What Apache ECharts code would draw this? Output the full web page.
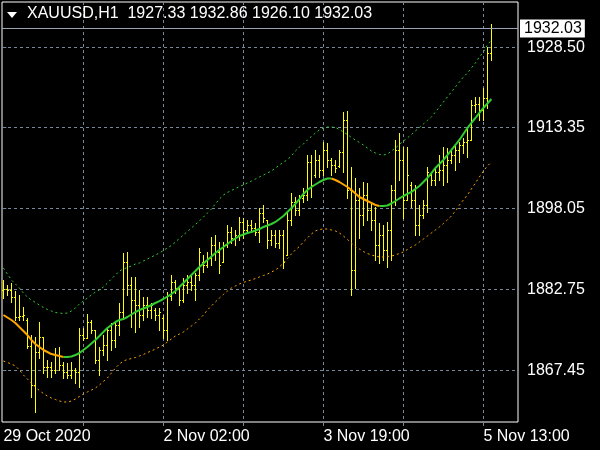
<!DOCTYPE html>
<html><head><meta charset="utf-8">
<script src="https://cdn.jsdelivr.net/npm/echarts@6/dist/echarts.min.js"></script>
<style>html,body{margin:0;padding:0;background:#000}#c{width:600px;height:450px}</style>
</head><body><div id="c"></div>
<script>
const symbolName = 'XAUUSD,H1';
const barOpen = [1882.62,1882.81,1882.62,1881.30,1877.52,1877.71,1876.96,1872.04,1864.68,1870.91,
1873.74,1868.08,1868.08,1867.51,1870.34,1868.46,1867.13,1866.57,1867.51,1867.13,
1874.12,1873.56,1876.58,1875.07,1869.40,1871.29,1872.23,1875.07,1873.18,1876.01,
1878.47,1887.91,1883.57,1880.73,1879.79,1877.90,1879.79,1878.84,1878.84,1877.90,
1877.33,1875.07,1881.49,1884.13,1883.00,1880.73,1883.57,1884.13,1883.57,1885.46,
1887.91,1887.34,1888.67,1891.12,1889.80,1887.91,1891.12,1893.58,1892.44,1893.01,
1895.47,1893.96,1894.90,1894.33,1893.58,1897.17,1895.84,1892.07,1893.01,1891.50,
1893.01,1889.23,1895.84,1899.24,1897.73,1900.00,1900.57,1906.80,1904.34,1907.18,
1905.29,1909.07,1907.18,1906.23,1906.04,1908.69,1914.73,1901.51,1886.40,1899.62,
1896.79,1900.57,1897.73,1895.84,1891.12,1893.01,1890.18,1893.96,1901.51,1909.07,
1907.18,1899.62,1902.46,1899.62,1894.90,1896.79,1898.68,1904.34,1903.40,1904.91,
1905.29,1906.23,1907.18,1908.12,1909.07,1910.01,1910.58,1910.96,1917.57,1917.76,
1916.62,1918.89,1927.33];
const barHigh = [1884.51,1883.57,1883.94,1882.43,1881.68,1879.41,1877.33,1874.12,1873.74,1876.58,
1873.74,1869.40,1869.02,1871.67,1871.86,1869.02,1868.83,1869.02,1867.89,1875.44,
1875.44,1878.09,1876.96,1875.07,1871.86,1874.12,1875.44,1876.39,1876.39,1880.17,
1889.61,1889.80,1885.08,1885.08,1882.62,1881.30,1881.30,1880.17,1879.22,1879.22,
1877.90,1882.24,1885.46,1884.51,1883.19,1884.89,1885.46,1885.46,1885.83,1890.56,
1889.23,1889.80,1892.63,1893.01,1891.69,1891.69,1894.90,1894.52,1893.96,1896.41,
1896.22,1895.84,1895.84,1895.28,1898.11,1898.68,1895.84,1893.96,1893.96,1893.96,
1893.96,1897.17,1900.94,1900.19,1900.57,1901.89,1908.12,1908.12,1909.07,1908.12,
1910.58,1910.39,1907.56,1907.18,1909.07,1916.24,1916.43,1905.86,1903.78,1901.89,
1903.02,1902.83,1899.24,1898.30,1895.28,1894.90,1895.47,1902.46,1910.96,1912.28,
1909.63,1909.63,1903.02,1902.46,1898.68,1899.62,1905.86,1904.91,1905.67,1908.12,
1909.63,1909.44,1909.07,1910.01,1910.58,1911.33,1913.41,1918.51,1919.08,1919.08,
1920.78,1928.52,1932.86];
const barLow = [1881.11,1881.68,1880.36,1876.96,1876.96,1876.96,1871.67,1862.41,1859.58,1869.78,
1866.94,1866.19,1866.19,1866.94,1867.51,1866.00,1866.00,1866.00,1865.06,1864.30,
1873.18,1873.56,1874.50,1868.83,1866.57,1870.34,1869.40,1871.29,1871.86,1874.12,
1877.52,1881.68,1875.63,1874.69,1875.63,1876.96,1877.52,1877.33,1876.96,1875.07,
1873.56,1873.18,1880.73,1882.05,1879.79,1880.36,1882.05,1882.62,1880.73,1884.51,
1886.02,1886.97,1887.34,1888.29,1885.83,1887.91,1890.74,1891.50,1891.12,1892.07,
1892.44,1893.39,1893.96,1893.01,1891.69,1895.47,1890.56,1891.12,1890.74,1890.56,
1886.78,1889.23,1894.90,1896.79,1896.79,1899.24,1899.62,1900.19,1903.97,1903.97,
1904.34,1905.86,1904.34,1904.91,1905.86,1904.91,1900.00,1881.68,1883.00,1892.44,
1894.90,1895.84,1893.96,1888.29,1887.72,1888.29,1886.97,1888.29,1898.68,1903.40,
1896.22,1899.62,1898.30,1893.01,1893.01,1896.22,1897.36,1902.46,1902.46,1903.40,
1902.46,1903.02,1906.61,1905.29,1906.80,1908.50,1907.74,1910.96,1916.24,1914.73,
1914.73,1917.00,1926.10];
const barClose = [1882.81,1882.62,1881.30,1877.52,1877.71,1877.90,1872.04,1864.68,1870.91,1873.74,
1868.08,1868.08,1867.51,1870.34,1868.46,1867.13,1866.57,1867.51,1867.13,1874.12,
1873.56,1876.58,1875.07,1869.40,1871.29,1872.23,1875.07,1873.18,1876.01,1878.47,
1887.91,1883.57,1880.73,1879.79,1877.90,1879.79,1878.84,1879.79,1877.90,1878.47,
1875.07,1881.49,1884.13,1883.00,1880.73,1883.57,1884.13,1883.57,1885.46,1889.80,
1887.34,1888.67,1891.12,1889.80,1887.34,1891.12,1893.58,1892.44,1893.01,1895.47,
1893.96,1894.90,1894.33,1893.58,1897.17,1896.22,1892.07,1893.01,1891.50,1893.01,
1887.91,1895.84,1899.24,1897.73,1900.00,1900.57,1906.80,1902.46,1907.18,1905.29,
1909.07,1907.18,1906.23,1905.67,1908.69,1914.73,1901.51,1886.40,1899.62,1896.79,
1900.57,1897.73,1895.84,1891.12,1893.01,1890.18,1893.96,1901.51,1909.07,1907.18,
1899.62,1904.34,1899.62,1894.90,1896.79,1898.68,1904.91,1903.40,1904.91,1905.29,
1906.23,1907.18,1908.12,1909.07,1910.01,1910.58,1910.96,1917.57,1917.76,1916.62,
1918.89,1927.33,1932.03];
const maLine = [1877.90,1877.43,1876.96,1876.39,1875.63,1874.88,1874.12,1873.18,1872.42,1871.86,
1871.29,1870.91,1870.53,1870.34,1870.16,1869.97,1869.97,1870.06,1870.34,1870.72,
1871.29,1871.86,1872.52,1873.18,1873.93,1874.69,1875.44,1876.01,1876.58,1876.96,
1877.14,1877.52,1877.99,1878.47,1878.84,1879.13,1879.41,1879.79,1880.17,1880.54,
1880.92,1881.39,1881.87,1882.43,1883.19,1883.94,1884.70,1885.46,1886.21,1886.97,
1887.63,1888.29,1888.95,1889.61,1890.18,1890.74,1891.31,1891.88,1892.35,1892.82,
1893.11,1893.39,1893.58,1893.86,1894.14,1894.52,1894.80,1895.09,1895.47,1896.03,
1896.60,1897.36,1898.11,1898.87,1899.81,1900.76,1901.51,1902.08,1902.55,1903.02,
1903.40,1903.68,1903.68,1903.40,1903.02,1902.55,1902.08,1901.51,1900.85,1900.19,
1899.81,1899.43,1899.06,1898.68,1898.49,1898.49,1898.58,1898.96,1899.43,1899.91,
1900.38,1900.76,1901.13,1901.70,1902.27,1903.02,1903.78,1904.72,1905.67,1906.42,
1907.18,1908.12,1909.07,1910.01,1910.96,1912.09,1913.22,1914.17,1915.11,1916.06,
1917.00,1917.85,1918.70];
const upperBand = [1886.78,1885.64,1884.51,1883.76,1883.00,1882.05,1881.30,1880.73,1880.26,1879.79,
1879.32,1878.94,1878.66,1878.37,1878.28,1878.18,1878.28,1878.66,1879.22,1879.98,
1880.54,1881.11,1881.68,1882.24,1882.62,1883.19,1883.94,1884.70,1885.46,1886.21,
1886.59,1886.87,1887.16,1887.53,1887.72,1888.10,1888.48,1888.86,1889.23,1889.61,
1890.08,1890.56,1891.03,1891.69,1892.35,1893.01,1893.67,1894.33,1894.99,1895.66,
1896.41,1897.17,1897.92,1898.87,1899.81,1900.57,1901.04,1901.42,1901.79,1902.17,
1902.46,1902.83,1903.21,1903.59,1903.97,1904.34,1904.72,1905.10,1905.67,1906.23,
1906.71,1907.27,1907.93,1908.88,1909.63,1910.20,1910.96,1911.62,1912.28,1912.84,
1913.22,1913.41,1913.41,1913.32,1912.94,1912.47,1911.99,1911.43,1910.96,1910.48,
1910.01,1909.44,1908.88,1908.50,1908.22,1908.12,1908.31,1908.88,1909.44,1910.11,
1910.77,1911.33,1911.99,1912.66,1913.32,1913.98,1914.64,1915.30,1916.24,1917.19,
1918.13,1919.08,1920.02,1920.97,1921.91,1922.86,1923.61,1924.56,1925.50,1926.63,
1927.58,1928.90,1929.84];
const lowerBand = [1869.21,1868.93,1868.64,1868.27,1867.51,1866.57,1865.81,1865.06,1864.30,1863.64,
1863.07,1862.60,1862.22,1861.94,1861.66,1861.47,1861.47,1861.66,1862.03,1862.50,
1862.98,1863.36,1863.73,1864.11,1864.68,1865.34,1866.00,1866.94,1867.89,1868.64,
1869.21,1869.49,1869.68,1869.87,1870.16,1870.44,1870.82,1871.10,1871.48,1871.86,
1872.23,1872.80,1873.37,1873.93,1874.31,1874.69,1875.26,1875.82,1876.39,1877.14,
1877.90,1878.84,1879.60,1880.36,1881.11,1881.77,1882.43,1883.00,1883.38,1883.76,
1884.04,1884.32,1884.51,1884.79,1885.08,1885.36,1885.64,1886.02,1886.40,1886.97,
1887.72,1888.57,1889.42,1890.18,1890.84,1891.69,1892.44,1893.20,1893.77,1894.05,
1894.14,1894.14,1893.96,1893.77,1893.39,1892.82,1892.16,1891.50,1890.84,1890.37,
1889.89,1889.52,1889.23,1889.04,1888.86,1888.86,1888.95,1889.04,1889.23,1889.52,
1889.80,1890.27,1890.74,1891.12,1891.69,1892.25,1892.82,1893.39,1893.96,1894.52,
1895.18,1895.84,1896.60,1897.54,1898.68,1899.62,1900.57,1901.70,1902.83,1903.97,
1905.10,1906.04,1906.80];
const yTickValues = [1867.45, 1882.75, 1898.05, 1913.35, 1928.50];
const yTickLabels = ['1867.45', '1882.75', '1898.05', '1913.35', '1928.50'];
const xGridBars = [20, 40, 60, 80, 100, 120];
const xLabelBars = [0, 40, 80, 120];
const xTickLabels = ['29 Oct 2020', '2 Nov 02:00', '3 Nov 19:00', '5 Nov 13:00'];

const N = barClose.length;
const last = N - 1;
const font = 'Liberation Sans, Arial, sans-serif';
const ohlcData = barClose.map((c, i) => [i, barOpen[i], barHigh[i], barLow[i], c]);
const up = maLine.map((v, i) => i === 0 ? null : v >= maLine[i - 1]);
const maGreen = maLine.map((v, i) => [i, ((i > 0 && up[i]) || (i < last && up[i + 1])) ? v : null]);
const maOrange = maLine.map((v, i) => [i, ((i > 0 && !up[i]) || (i < last && up[i + 1] === false)) ? v : null]);
const GREEN = '#32cd32', ORANGE = '#ffa500', YELLOW = '#ffff00', GRID = '#778899';

const chart = echarts.init(document.getElementById('c'), null, {renderer: 'canvas'});
chart.setOption({
  backgroundColor: '#000',
  animation: false,
  textStyle: {fontFamily: font},
  grid: {left: 2, right: 82, top: 2, bottom: 28, show: true, borderColor: '#ffffff', borderWidth: 1, backgroundColor: '#000'},
  xAxis: {
    type: 'value', min: -0.35, max: 128.65,
    axisLine: {show: false},
    axisTick: {show: true, customValues: xGridBars, length: 4, lineStyle: {color: GRID}},
    splitLine: {show: true, lineStyle: {color: GRID, type: [3, 3], width: 1}},
    axisLabel: {customValues: xLabelBars, color: '#fff', fontSize: 16, fontFamily: font, align: 'left', margin: 7,
      formatter: v => { const k = xLabelBars.indexOf(Math.round(v)); return k >= 0 ? xTickLabels[k] : ''; }}
  },
  yAxis: {
    type: 'value', position: 'right', min: 1857.69, max: 1937.02, scale: true,
    axisLine: {show: false},
    axisTick: {show: true, customValues: yTickValues, length: 3, lineStyle: {color: GRID}},
    splitLine: {show: true, lineStyle: {color: GRID, type: [3, 3], width: 1}},
    axisLabel: {customValues: yTickValues, color: '#fff', fontSize: 16, fontFamily: font, align: 'left', margin: 9,
      formatter: v => { let k = 0; yTickValues.forEach((t, j) => { if (Math.abs(t - v) < Math.abs(yTickValues[k] - v)) k = j; }); return yTickLabels[k]; }}
  },
  graphic: [
    {type: 'polygon', left: 7, top: 12, shape: {points: [[0, 0], [10, 0], [5, 6]]}, style: {fill: '#fff'}, z: 100},
    {type: 'text', left: 27, top: 6, z: 100, style: {
      text: symbolName + '  ' + [barOpen[last], barHigh[last], barLow[last], barClose[last]].map(v => v.toFixed(2)).join(' '),
      fill: '#fff', font: '16px ' + font}}
  ],
  series: [
    {
      type: 'custom', name: 'bars', data: ohlcData, encode: {x: 0, y: [1, 2, 3, 4]}, z: 2,
      renderItem: (params, api) => {
        const i = api.value(0);
        const pO = api.coord([i, api.value(1)]), pH = api.coord([i, api.value(2)]);
        const pL = api.coord([i, api.value(3)]), pC = api.coord([i, api.value(4)]);
        const x = Math.round(pO[0]);
        const yh = Math.round(pH[1]), yl = Math.round(pL[1]);
        const st = {fill: YELLOW};
        return {type: 'group', children: [
          {type: 'rect', shape: {x: x, y: yh, width: 1, height: Math.max(1, yl - yh + 1)}, style: st},
          {type: 'rect', shape: {x: x - 1, y: Math.round(pO[1]), width: 1, height: 1}, style: st},
          {type: 'rect', shape: {x: x + 1, y: Math.round(pC[1]), width: 1, height: 1}, style: st}
        ]};
      },
      markLine: {
        silent: true, symbol: ['none', 'none'],
        lineStyle: {color: '#9aa5b1', type: 'solid', width: 1},
        label: {show: true, position: 'end', distance: 2, formatter: p => p.value.toFixed(2),
          color: '#000', backgroundColor: '#fff', padding: [1, 3, 1, 4], fontSize: 16, fontFamily: font},
        data: [{yAxis: barClose[last]}]
      }
    },
    {type: 'line', name: 'upper', data: upperBand.map((v, i) => [i, v]), showSymbol: false, z: 3,
      lineStyle: {color: GREEN, width: 1, type: [2, 3]}},
    {type: 'line', name: 'lower', data: lowerBand.map((v, i) => [i, v]), showSymbol: false, z: 3,
      lineStyle: {color: ORANGE, width: 1, type: [2, 3]}},
    {type: 'line', name: 'maUp', data: maGreen, showSymbol: false, connectNulls: false, z: 4,
      lineStyle: {color: GREEN, width: 2}},
    {type: 'line', name: 'maDown', data: maOrange, showSymbol: false, connectNulls: false, z: 4,
      lineStyle: {color: ORANGE, width: 2}}
  ]
});
</script></body></html>
